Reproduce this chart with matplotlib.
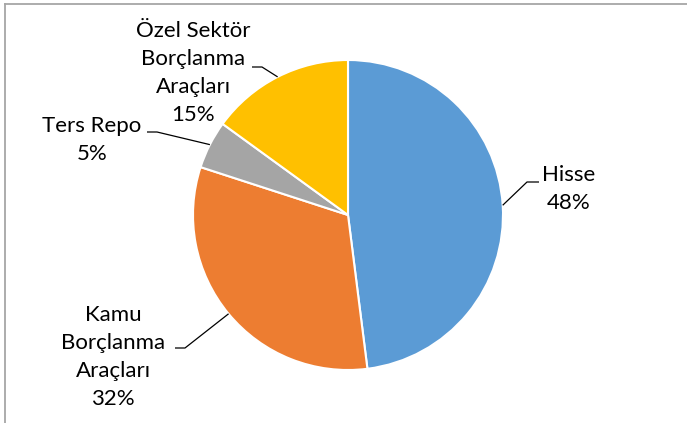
import numpy as np
import matplotlib
import matplotlib.pyplot as plt
from matplotlib.lines import Line2D

labels = ["Hisse", "Kamu\nBorçlanma\nAraçları", "Ters Repo", "Özel Sektör\nBorçlanma\nAraçları"]
values = [48, 32, 5, 15]
colors = ["#5B9BD5", "#ED7D31", "#A5A5A5", "#FFC000"]

W, H = 687, 423
fig = plt.figure(figsize=(W / 100, H / 100), dpi=100)
ax = fig.add_axes([0, 0, 1, 1])
ax.set_xlim(0, W)
ax.set_ylim(0, H)
ax.set_aspect("equal")
ax.axis("off")

cx, cy, r = 348, H - 215, 155
wedges, _ = ax.pie(values, colors=colors, startangle=90, counterclock=False,
                   center=(cx, cy), radius=r, frame=True,
                   wedgeprops=dict(edgecolor="white", linewidth=1.5))
ax.set_xlim(0, W)
ax.set_ylim(0, H)
ax.axis("off")

# label text centre (x, y from top), elbow point, end of horizontal segment
layout = [
    ((569, 189), (527, 182), (539, 182)),
    ((113, 357), (185, 348), (175, 348)),
    ((92, 140), (157, 132), (147, 132)),
    ((193, 73), (262, 67), (252, 67)),
]
font = dict(family=["Lato", "DejaVu Sans"], fontsize=16, color="black")
for w, lab, v, (tp, elbow, hend) in zip(wedges, labels, values, layout):
    ang = np.deg2rad((w.theta1 + w.theta2) / 2)
    ex, ey = cx + r * np.cos(ang), cy + r * np.sin(ang)
    ax.plot([ex, elbow[0], hend[0]], [ey, H - elbow[1], H - hend[1]],
            color="black", lw=0.9, solid_capstyle="butt")
    ax.text(tp[0], H - tp[1], f"{lab}\n{v}%", ha="center", va="center",
            linespacing=1.5, **font)

# chart area border (top and left visible)
fig.add_artist(Line2D([4.5 / W, 4.5 / W], [0, 1 - 4.5 / H], color="#A6A6A6", lw=1.3))
fig.add_artist(Line2D([4.5 / W, 1], [1 - 4.5 / H, 1 - 4.5 / H], color="#A6A6A6", lw=1.3))

plt.savefig("out.png", dpi=100)
